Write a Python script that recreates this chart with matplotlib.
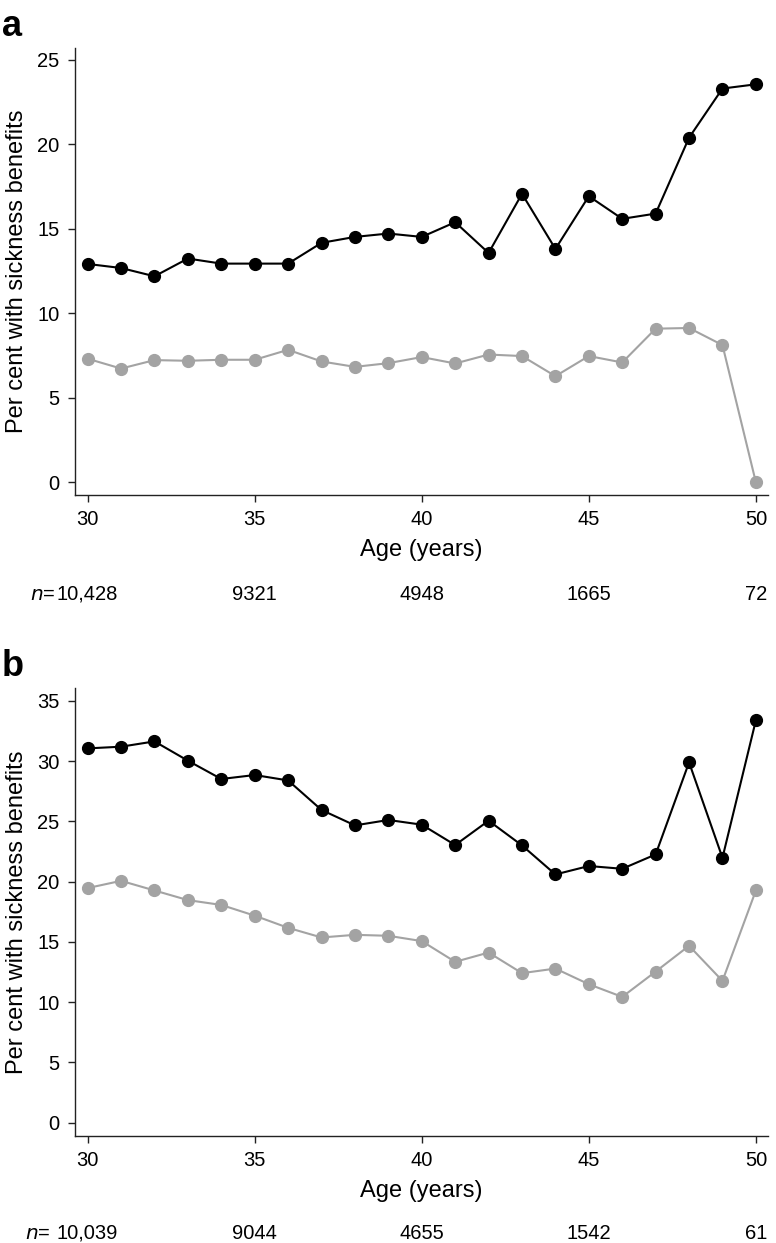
import matplotlib
matplotlib.use('Agg')
from matplotlib import pyplot as plt

plt.rcParams['font.family'] = ['Liberation Sans', 'DejaVu Sans']

ages = list(range(30, 51))

# panel a
a_black = [12.92, 12.68, 12.19, 13.24, 12.94, 12.94, 12.94, 14.17, 14.52, 14.72, 14.52,
           15.39, 13.57, 17.07, 13.81, 16.93, 15.59, 15.90, 20.39, 23.30, 23.55]
a_grey = [7.31, 6.73, 7.23, 7.19, 7.25, 7.25, 7.84, 7.15, 6.83, 7.05, 7.41,
          7.03, 7.56, 7.47, 6.28, 7.47, 7.09, 9.09, 9.13, 8.12, 0.0]
a_n = ['10,428', '9321', '4948', '1665', '72']

# panel b
b_black = [31.06, 31.20, 31.64, 30.04, 28.52, 28.85, 28.40, 25.95, 24.67, 25.12, 24.73,
           23.04, 25.06, 23.01, 20.60, 21.30, 21.07, 22.26, 29.90, 21.98, 33.39]
b_grey = [19.47, 20.07, 19.27, 18.47, 18.07, 17.18, 16.17, 15.37, 15.59, 15.51, 15.07,
          13.35, 14.12, 12.41, 12.79, 11.49, 10.44, 12.54, 14.68, 11.77, 19.27]
b_n = ['10,039', '9044', '4655', '1542', '61']

n_ages = [30, 35, 40, 45, 50]

GREY = '#a3a3a3'


def drawPanel(ax, black, grey, nLabels, ylim, yticks, nY, nSep):
    ax.plot(ages, grey, '-o', color=GREY, lw=1.5, ms=8.5, zorder=2)
    ax.plot(ages, black, '-o', color='black', lw=1.5, ms=8.5, zorder=3)
    ax.set_xlim(29.62, 50.37)
    ax.set_ylim(*ylim)
    ax.set_xticks(n_ages)
    ax.set_yticks(yticks)
    ax.spines['top'].set_visible(False)
    ax.spines['right'].set_visible(False)
    for s in ('left', 'bottom'):
        ax.spines[s].set_linewidth(1.0)
        ax.spines[s].set_color('#222222')
    ax.tick_params(direction='out', length=5, width=1.0, labelsize=14.5, pad=6, color='#222222')
    ax.set_xlabel('Age (years)', fontsize=17, labelpad=7)
    ax.set_ylabel('Per cent with sickness benefits', fontsize=17, labelpad=7)
    tr = ax.get_xaxis_transform()
    for x, lab in zip(n_ages, nLabels):
        ax.text(x, nY, lab, transform=tr, ha='center', va='center', fontsize=14.5)
    ax.text(29.62 - nSep, nY, '$n$=', transform=tr, ha='left', va='center', fontsize=14.5)


fig = plt.figure(figsize=(7.76, 12.43), dpi=100)
ax1 = fig.add_axes([0.0966, 0.6018, 0.8934, 0.3596])
ax2 = fig.add_axes([0.0966, 0.0863, 0.8934, 0.3600])

drawPanel(ax1, a_black, a_grey, a_n, (-0.75, 25.7), [0, 5, 10, 15, 20, 25], -0.222, 1.35)
drawPanel(ax2, b_black, b_grey, b_n, (-1.08, 36.05), [0, 5, 10, 15, 20, 25, 30, 35], -0.218, 1.5)

fig.text(0.002, 1 - 36 / 1243, 'a', fontsize=26, fontweight='bold', va='baseline', ha='left')
fig.text(0.002, 1 - 676 / 1243, 'b', fontsize=26, fontweight='bold', va='baseline', ha='left')

fig.savefig('out.png', dpi=100)
